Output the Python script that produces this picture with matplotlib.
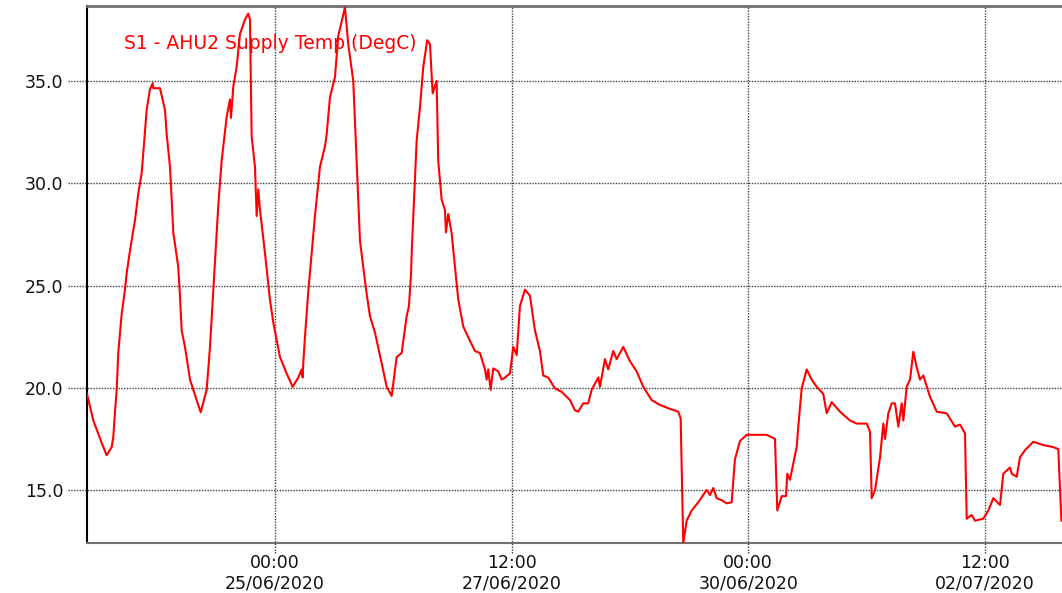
import matplotlib
matplotlib.use('Agg')
from matplotlib import pyplot as plt
import matplotlib.dates as mdates
import pandas as pd

# hours since 23/06/2020 00:00 and supply air temperature (DegC)
hours = [0.33, 1.93, 4.06, 5.32, 6.59, 7.0, 7.43, 7.86, 8.26, 9.12, 9.96, 10.39, 11.23, 12.5, 13.34,
         14.2, 15.47, 16.3, 17.0, 17.14, 18.84, 20.1, 20.54, 21.38, 21.81, 22.21, 23.48, 23.9, 24.34,
         25.18, 26.45, 28.14, 29.16, 30.25, 30.68, 31.52, 32.35, 33.62, 34.48, 35.75, 36.59, 36.84,
         37.42, 38.29, 39.12, 40.39, 41.23, 41.66, 42.09, 42.93, 43.36, 43.77, 44.2, 45.46, 46.3,
         46.73, 47.57, 49.27, 50.97, 52.49, 53.91, 54.77, 55.02, 55.18, 55.61, 56.45, 58.14, 59.41,
         60.68, 61.11, 61.95, 63.22, 64.05, 65.75, 66.59, 67.86, 68.29, 68.72, 69.56, 70.39, 71.25,
         72.09, 73.36, 75.06, 76.33, 77.6, 78.86, 80.13, 81.4, 81.98, 82.49, 82.74, 83.94, 84.77,
         85.61, 86.62, 87.31, 87.99, 89.0, 89.41, 90.27, 91.11, 91.36, 91.95, 92.81, 93.65, 94.49,
         95.75, 97.45, 98.72, 99.99, 101.26, 101.69, 102.09, 102.7, 103.36, 104.63, 105.49, 106.33,
         107.6, 108.43, 109.3, 110.13, 111.4, 112.67, 113.94, 115.2, 116.04, 117.31, 119.01, 120.71,
         122.81, 124.08, 124.92, 126.18, 127.45, 128.31, 129.99, 130.42, 131.69, 132.52, 133.79,
         134.66, 136.33, 138.03, 139.73, 141.4, 143.53, 145.64, 147.74, 150.28, 150.89, 151.55,
         152.41, 153.68, 155.35, 157.48, 158.32, 159.16, 160.02, 161.29, 162.55, 163.82, 164.66,
         165.93, 167.63, 170.17, 172.7, 174.81, 175.39, 176.51, 177.6, 177.93, 178.61, 179.45,
         180.31, 180.72, 181.58, 182.85, 184.12, 185.39, 187.06, 187.93, 189.19, 191.3, 193.84,
         195.54, 198.08, 198.91, 199.34, 200.18, 201.45, 202.29, 202.72, 203.55, 204.42, 205.25,
         206.09, 206.95, 207.36, 208.22, 209.06, 209.89, 210.76, 211.59, 212.43, 214.13, 215.83,
         218.37, 220.47, 221.74, 223.0, 223.43, 224.7, 225.54, 227.64, 228.91, 230.18, 231.88,
         232.72, 234.42, 234.85, 236.11, 236.95, 238.22, 240.32, 242.86, 245.39, 246.66, 247.45]
temps = [19.7, 18.4, 17.3, 16.7, 17.1, 17.6, 18.8, 19.9, 21.7, 23.6, 24.8, 25.6, 26.7, 28.2, 29.5,
         30.5, 33.6, 34.6, 34.9, 34.65, 34.65, 33.6, 32.4, 30.8, 29.2, 27.6, 25.9, 24.5, 22.8,
         22.0, 20.4, 19.4, 18.8, 19.6, 19.9, 22.0, 24.7, 28.9, 31.1, 33.25, 34.1, 33.2,
         34.7, 35.7, 37.3, 38.0, 38.3, 38.0, 32.3, 30.8, 28.4, 29.7, 28.7, 26.6, 25.1,
         24.3, 23.2, 21.5, 20.7, 20.05, 20.5, 20.9, 20.5, 21.2, 22.5, 24.7, 28.4, 30.8,
         31.8, 32.4, 34.2, 35.2, 37.2, 38.6, 36.8, 35.0, 33.0, 31.0, 27.2, 25.9, 24.6,
         23.5, 22.7, 21.2, 20.05, 19.6, 21.5, 21.7, 23.5, 24.0, 25.5, 26.9, 32.1, 33.7,
         35.7, 37.0, 36.8, 34.4, 35.0, 31.1, 29.2, 28.7, 27.6, 28.5, 27.55, 25.9, 24.3,
         23.0, 22.3, 21.8, 21.7, 20.9, 20.4, 20.9, 19.9, 20.95, 20.8, 20.4, 20.5,
         20.7, 22.0, 21.6, 24.0, 24.8, 24.5, 22.8, 21.8, 20.6, 20.5, 19.97, 19.8,
         19.4, 18.9, 18.83, 19.24, 19.24, 19.9, 20.5, 20.05, 21.4, 20.9, 21.8,
         21.4, 22.0, 21.3, 20.8, 20.05, 19.4, 19.16, 19.0, 18.83, 18.5, 12.4,
         13.5, 14.0, 14.4, 15.0, 14.75, 15.1, 14.6, 14.5, 14.35, 14.4, 16.5,
         17.4, 17.7, 17.7, 17.7, 17.5, 14.0, 14.7, 14.7, 15.8, 15.5, 16.3,
         17.1, 18.1, 19.97, 20.9, 20.4, 20.05, 19.7, 18.75, 19.3, 18.83, 18.4,
         18.25, 18.25, 17.85, 14.6, 15.0, 16.6, 18.25, 17.5, 18.75, 19.24, 19.24,
         18.1, 19.24, 18.4, 20.05, 20.4, 21.76, 21.0, 20.4, 20.6, 19.56, 18.83,
         18.75, 18.1, 18.2, 17.77, 13.6, 13.78, 13.5, 13.6, 14.0, 14.6, 14.27,
         15.8, 16.1, 15.8, 15.65, 16.6, 16.95, 17.36, 17.2, 17.1, 17.0, 13.5]

start = pd.Timestamp('2020-06-23 00:00')
times = start + pd.to_timedelta(hours, unit='h')

tick_times = pd.to_datetime(['2020-06-25 00:00', '2020-06-27 12:00',
                             '2020-06-30 00:00', '2020-07-02 12:00'])
y_ticks = [15.0, 20.0, 25.0, 30.0, 35.0]

fig = plt.figure(figsize=(10.62, 5.93), dpi=100)
ax = fig.add_axes([87 / 1062, 50 / 593, 975 / 1062, 537 / 593])

ax.plot(times, temps, color='#ff0000', lw=1.5, zorder=3)

ax.set_xlim(start + pd.Timedelta(hours=0.33), start + pd.Timedelta(hours=247.6))
ax.set_ylim(12.41, 38.67)

# dotted grid, running past the frame like tick marks
for t in tick_times:
    ax.axvline(t, ymin=-10 / 537, ymax=1, color='#404040', lw=1, ls=(0, (1, 1)),
               clip_on=False, zorder=1)
for v in y_ticks:
    ax.axhline(v, xmin=-19 / 975, xmax=1, color='#404040', lw=1, ls=(0, (1, 1)),
               clip_on=False, zorder=1)

ax.set_xticks(tick_times)
ax.xaxis.set_major_formatter(mdates.DateFormatter('%H:%M\n%d/%m/%Y'))
ax.set_yticks(y_ticks)
ax.yaxis.set_major_formatter(matplotlib.ticker.FormatStrFormatter('%.1f'))
ax.tick_params(axis='both', length=0, labelsize=12.5, colors='#111111')
ax.tick_params(axis='x', pad=8)
ax.tick_params(axis='y', pad=17)
for lbl in ax.get_xticklabels():
    lbl.set_linespacing(1.2)

ax.spines['right'].set_visible(False)
ax.spines['left'].set_color('black')
ax.spines['left'].set_linewidth(1.5)
ax.spines['top'].set_color('#707070')
ax.spines['top'].set_linewidth(2)
ax.spines['bottom'].set_color('#707070')
ax.spines['bottom'].set_linewidth(1.5)

ax.text(0.038, 0.931, 'S1 - AHU2 Supply Temp (DegC)', transform=ax.transAxes,
        color='#ff0000', fontsize=13.5, va='center', ha='left')

fig.savefig('out.png', dpi=100)
